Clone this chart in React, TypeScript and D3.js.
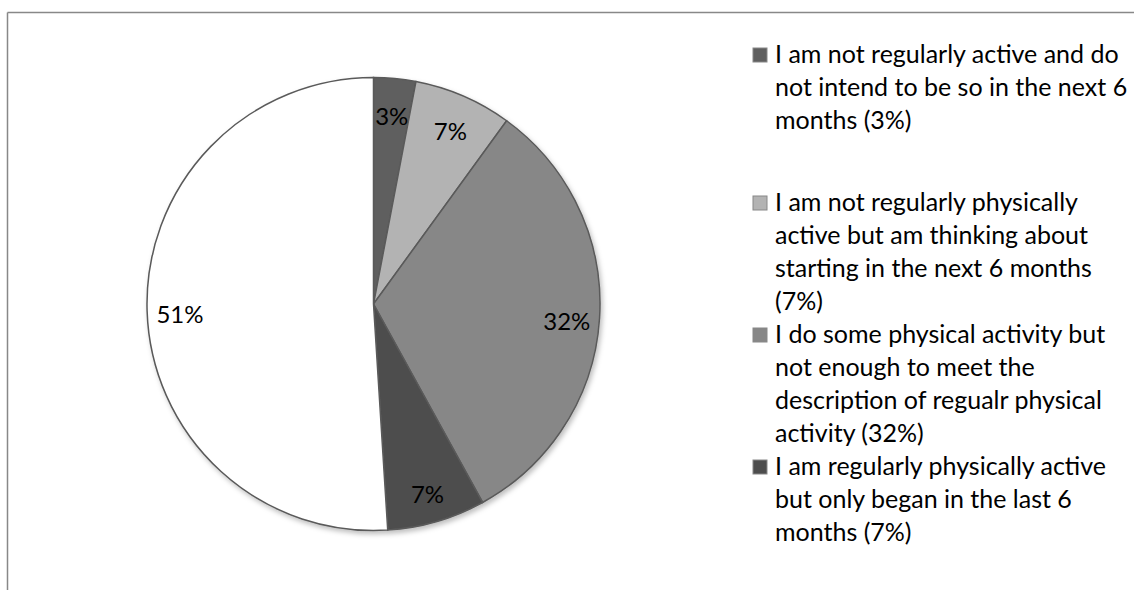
import React from "react";
import * as d3 from "d3";

const categories = [
  "I am not regularly active and do not intend to be so in the next 6 months (3%)",
  "I am not regularly physically active but am thinking about starting in the next 6 months (7%)",
  "I do some physical activity but not enough to meet the description of regualr physical activity (32%)",
  "I am regularly physically active but only began in the last 6 months (7%)",
  "I am regularly physically active and have been for longer than 6 months (51%)",
];
const values = [3, 7, 32, 7, 51];
const sliceLabels = ["3%", "7%", "32%", "7%", "51%"];
const colors = ["#5f5f5f", "#b3b3b3", "#878787", "#4d4d4d", "#ffffff"];
const legendLines = [
  ["I am not regularly active and do", "not intend to be so in the next 6", "months (3%)"],
  ["I am not regularly physically", "active but am thinking about", "starting in the next 6 months", "(7%)"],
  ["I do some physical activity but", "not enough to meet the", "description of regualr physical", "activity (32%)"],
  ["I am regularly physically active", "but only began in the last 6", "months (7%)"],
];

const W = 1134;
const H = 590;
const cx = 373.5;
const cy = 304;
const R = 226.5;
const font = "Lato, 'Open Sans', sans-serif";

export default function App() {
  const pie = d3.pie<number>().value((d) => d).sort(null);
  const arcs = pie(values);
  const arc = d3.arc<d3.PieArcDatum<number>>().innerRadius(0).outerRadius(R);
  const labelArc = d3.arc<d3.PieArcDatum<number>>().innerRadius(R * 0.855).outerRadius(R * 0.855);

  const lineH = 33;
  const legendX = 753;
  const itemStarts = [63, 211, 343, 475];

  return (
    <svg width={W} height={H} style={{ position: "absolute", left: 0, top: 0, background: "#fff" }}>
      <defs>
        <filter id="sh" x="-10%" y="-10%" width="130%" height="130%">
          <feDropShadow dx="2" dy="3" stdDeviation="2.5" floodColor="#000" floodOpacity="0.25" />
        </filter>
      </defs>
      <rect x={0} y={0} width={W} height={H} fill="#fff" />
      <line x1={7.5} y1={12.5} x2={W} y2={12.5} stroke="#888" strokeWidth={1.5} />
      <line x1={7.5} y1={12.5} x2={7.5} y2={H} stroke="#888" strokeWidth={1.5} />
      <g transform={`translate(${cx},${cy})`}>
        <g filter="url(#sh)">
          {arcs.map((a, i) => (
            <path key={i} d={arc(a) || ""} fill={colors[i]} stroke="#5a5a5a" strokeWidth={1.5} />
          ))}
        </g>
        {arcs.map((a, i) => {
          const [x, y] = labelArc.centroid(a);
          return (
            <text
              key={i}
              x={x}
              y={y + 5}
              dy="0.35em"
              textAnchor="middle"
              fontFamily={font}
              fontSize={24}
              fill="#000"
            >
              {sliceLabels[i]}
            </text>
          );
        })}
      </g>
      <g>
        {legendLines.map((lines, i) => (
          <g key={i}>
            <rect
              x={legendX}
              y={itemStarts[i] - 15}
              width={14}
              height={14}
              fill={colors[i]}
              stroke="#888"
              strokeWidth={1}
            />
            <text fontFamily={font} fontSize={25} fill="#000">
              {lines.map((l, j) => (
                <tspan key={j} x={legendX + 22} y={itemStarts[i] + j * lineH}>
                  {l}
                </tspan>
              ))}
            </text>
          </g>
        ))}
      </g>
    </svg>
  );
}
